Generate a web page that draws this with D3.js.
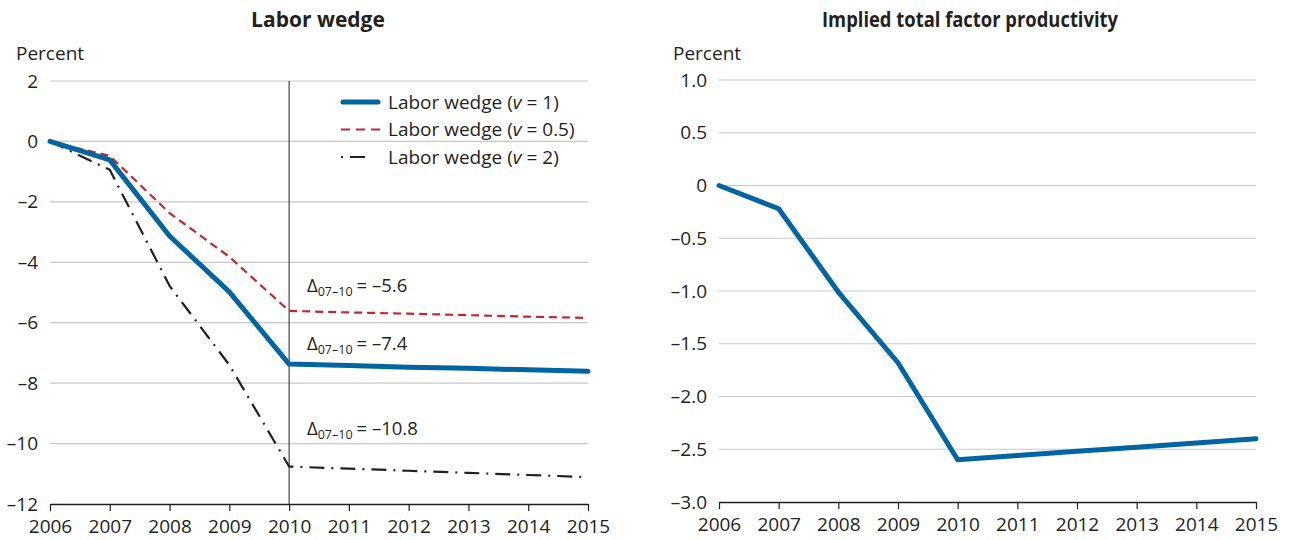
<!DOCTYPE html>
<html><head><meta charset="utf-8">
<script src="https://cdn.jsdelivr.net/npm/d3@7"></script>
<style>
body{margin:0;background:#fff;}
text{font-family:"Open Sans","Noto Sans",sans-serif;fill:#231f20;}
</style></head>
<body><svg id="c" width="1289" height="540"></svg>
<script>
const years = [2006,2007,2008,2009,2010,2011,2012,2013,2014,2015];
const wedgeV1 = [0,-0.61,-3.13,-4.98,-7.37,-7.42,-7.47,-7.51,-7.56,-7.61];
const wedgeV05 = [0,-0.48,-2.37,-3.82,-5.61,-5.66,-5.70,-5.75,-5.80,-5.84];
const wedgeV2 = [0,-0.94,-4.78,-7.40,-10.76,-10.83,-10.90,-10.97,-11.04,-11.11];
const tfp = [0,-0.22,-1.01,-1.68,-2.60,-2.56,-2.52,-2.48,-2.44,-2.40];
const leftTicks = [2,0,-2,-4,-6,-8,-10,-12];
const rightTicks = [1.0,0.5,0,-0.5,-1.0,-1.5,-2.0,-2.5,-3.0];
const legendLabels = ["v = 1","v = 0.5","v = 2"];
const deltas = ["–5.6","–7.4","–10.8"];

const svg = d3.select("#c");
const fmt = v => (v<0?"\u2013":"") + Math.abs(v);

function panel(opts){
  const g = svg.append("g");
  const x = d3.scaleLinear().domain([2006,2015]).range(opts.xr);
  const y = d3.scaleLinear().domain(opts.yd).range(opts.yr);
  g.selectAll(".grid").data(opts.ticks.slice(0,-1)).join("line")
    .attr("x1",opts.xr[0]).attr("x2",opts.xr[1])
    .attr("y1",d=>y(d)).attr("y2",d=>y(d))
    .attr("stroke","#c8c8c8").attr("stroke-width",1.2);
  g.selectAll(".yl").data(opts.ticks).join("text")
    .attr("x",opts.xr[0]-12).attr("y",d=>y(d)+6.5)
    .attr("text-anchor","end").attr("font-size",19)
    .text(d=>opts.tf(d));
  const ax = g.append("g").attr("transform",`translate(0,${y(opts.yd[0])})`)
    .call(d3.axisBottom(x).tickValues(years).tickFormat(d3.format("d")).tickSize(7).tickSizeOuter(0));
  ax.select(".domain").attr("stroke","#231f20").attr("stroke-width",1.3);
  ax.selectAll(".tick line").attr("stroke","#231f20").attr("stroke-width",1.2);
  ax.selectAll(".tick text").attr("font-size",19).attr("dy","1.0em").attr("fill","#231f20")
    .attr("font-family","Open Sans, Noto Sans, sans-serif");
  const tt = g.append("text").attr("x",opts.tx).attr("y",27).attr("text-anchor","middle")
    .attr("font-size",21).attr("font-weight","bold").text(opts.title);
  if (opts.tlen) tt.attr("textLength",opts.tlen).attr("lengthAdjust","spacingAndGlyphs");
  g.append("text").attr("x",opts.px).attr("y",60).attr("font-size",19).text("Percent");
  return {g,x,y};
}

// Left panel
const L = panel({xr:[50,588], yd:[-12,2], yr:[504,81], ticks:leftTicks,
  tf:v=>fmt(v), tx:318, title:"Labor wedge", px:16});
L.g.append("line").attr("x1",L.x(2010)).attr("x2",L.x(2010))
  .attr("y1",L.y(2)).attr("y2",L.y(-12)).attr("stroke","#231f20").attr("stroke-width",1);
const lineL = d3.line().x((d,i)=>L.x(years[i])).y(d=>L.y(d));
const styles = [
  {data:wedgeV1, stroke:"#0065a0", w:5, dash:null},
  {data:wedgeV05, stroke:"#c1272d", w:2.2, dash:"8,5"},
  {data:wedgeV2, stroke:"#231f20", w:2.2, dash:"15,7,2,7"}
];
[2,1,0].forEach(k=>{
  const s = styles[k];
  L.g.append("path").attr("d",lineL(s.data)).attr("fill","none")
    .attr("stroke",s.stroke).attr("stroke-width",s.w)
    .attr("stroke-linecap",k===0?"round":"butt").attr("stroke-linejoin","round")
    .attr("stroke-dasharray",s.dash);
});
// legend
styles.forEach((s,i)=>{
  const yy = 102 + i*27.5;
  const dash = i===2 ? "2,7,15,40" : (i===1 ? "9,6" : null);
  L.g.append("line").attr("x1",i===0?343:341).attr("x2",i===0?378:380).attr("y1",yy).attr("y2",yy)
    .attr("stroke",s.stroke).attr("stroke-width",s.w).attr("stroke-dasharray",dash)
    .attr("stroke-linecap",i===0?"round":"butt");
  const t = L.g.append("text").attr("x",388).attr("y",yy+6.5).attr("font-size",19);
  t.append("tspan").text("Labor wedge (");
  t.append("tspan").attr("font-style","italic").text("v");
  t.append("tspan").text(legendLabels[i].slice(1)+")");
});
// annotations
const annY = [292,350,435];
deltas.forEach((d,i)=>{
  const t = L.g.append("text").attr("x",307).attr("y",annY[i]).attr("font-size",18.5);
  t.append("tspan").text("Δ");
  t.append("tspan").attr("font-size",12.5).attr("dy",4).text("07–10");
  t.append("tspan").attr("dy",-4).attr("dx",4).text("= " + d);
});

// Right panel
const R = panel({xr:[719,1256], yd:[-3,1], yr:[502,80], ticks:rightTicks,
  tf:v=> v===0 ? "0" : (v<0?"\u2013":"") + Math.abs(v).toFixed(1), tx:970, tlen:296,
  title:"Implied total factor productivity", px:673});
const lineR = d3.line().x((d,i)=>R.x(years[i])).y(d=>R.y(d));
R.g.append("path").attr("d",lineR(tfp)).attr("fill","none")
  .attr("stroke","#0065a0").attr("stroke-width",5)
  .attr("stroke-linecap","round").attr("stroke-linejoin","round");
</script></body></html>
